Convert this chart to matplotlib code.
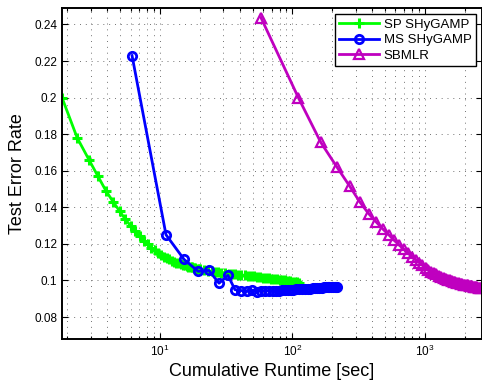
import matplotlib
matplotlib.use("Agg")
import matplotlib.pyplot as plt
from matplotlib.ticker import FixedLocator, FixedFormatter, LogLocator, NullFormatter

plt.rcParams['font.family'] = ['Liberation Sans', 'DejaVu Sans']

# SP SHyGAMP (green, + markers)
sp_time = [1.82, 2.37, 2.91, 3.40, 3.91, 4.43, 4.95, 5.47, 5.99, 6.51, 7.03, 7.55,
           8.07, 8.59, 9.11, 9.63, 10.2, 10.7, 11.2, 11.7, 12.3, 12.8, 13.3, 13.8,
           14.3, 14.9, 15.4, 15.9, 16.4, 17.0, 17.5, 18.0, 18.5, 19.0, 19.6, 20.1,
           21.5, 23, 24.5, 26, 27.5, 29, 31, 33, 35, 37, 39, 41, 43.5, 46, 48.5, 51,
           54, 57, 60, 63, 66, 69, 72, 76, 80, 84, 88, 92, 96, 100, 104, 108, 112]
sp_err = [0.200, 0.178, 0.166, 0.157, 0.149, 0.143, 0.138, 0.1335, 0.130, 0.127, 0.1242, 0.1218,
          0.1198, 0.1180, 0.1165, 0.1152, 0.1140, 0.1130, 0.1122, 0.1115, 0.1108, 0.1102, 0.1097, 0.1093,
          0.1089, 0.1085, 0.1082, 0.1079, 0.1076, 0.1073, 0.1071, 0.1069, 0.1067, 0.1065, 0.1063, 0.1061,
          0.1057, 0.1053, 0.1050, 0.1047, 0.1045, 0.1043, 0.1040, 0.1038, 0.1036, 0.1034, 0.1032, 0.1030,
          0.1028, 0.1026, 0.1024, 0.1022, 0.1020, 0.1018, 0.1016, 0.1014, 0.1012, 0.1010, 0.1008, 0.1006,
          0.1004, 0.1002, 0.1000, 0.0998, 0.0996, 0.0994, 0.0992, 0.0990, 0.0988]

# MS SHyGAMP (blue, o markers)
ms_time = [6.15, 11.1, 15.2, 19.4, 23.4, 27.9, 32.6, 36.8, 41.1, 45.4, 49.7, 54.0,
           58.3, 62.6, 66.9, 71.2, 75.5, 79.8, 84.1, 88.4, 92.7, 97.0, 101, 106,
           112, 118, 124, 130, 136, 142, 148, 154, 160, 166, 172, 178, 184, 190,
           196, 202, 208, 214, 217]
ms_err = [0.223, 0.125, 0.1115, 0.105, 0.1055, 0.0985, 0.1028, 0.0950, 0.0945, 0.0942, 0.0946, 0.0938,
          0.0943, 0.0941, 0.0944, 0.0943, 0.0944, 0.0945, 0.0946, 0.0947, 0.0948, 0.0949, 0.0950, 0.0951,
          0.0952, 0.0953, 0.0954, 0.0955, 0.0956, 0.0957, 0.0958, 0.0959, 0.0960, 0.0961, 0.0962, 0.0962,
          0.0963, 0.0964, 0.0965, 0.0965, 0.0966, 0.0967, 0.0967]

# SBMLR (magenta, triangle markers)
sb_time = [57.8, 110.8, 163.8, 216.8, 269.8, 322.8, 375.8, 428.8, 481.8, 534.8, 587.8,
           640.8, 693.8, 746.8, 799.8, 852.8, 905.8, 958.8, 1011.8, 1064.8, 1117.8,
           1170.8, 1223.8, 1276.8, 1329.8, 1382.8, 1435.8, 1488.8, 1541.8, 1594.8,
           1647.8, 1700.8, 1753.8, 1806.8, 1859.8, 1912.8, 1965.8, 2018.8, 2071.8,
           2124.8, 2177.8, 2230.8, 2283.8, 2336.8, 2389.8, 2442.8, 2495.8, 2548.8,
           2601.8, 2654.8, 2707.8]
sb_err = [0.2438, 0.2000, 0.1755, 0.1620, 0.1517, 0.1429, 0.1366, 0.1320, 0.1281, 0.1249, 0.1219,
          0.1193, 0.1171, 0.1149, 0.1130, 0.1113, 0.1098, 0.1083, 0.1070, 0.1057, 0.1047,
          0.1040, 0.1033, 0.1026, 0.1020, 0.1013, 0.1007, 0.1003, 0.1000, 0.0997,
          0.0994, 0.0991, 0.0988, 0.0985, 0.0982, 0.0980, 0.0977, 0.0976, 0.0974,
          0.0973, 0.0971, 0.0970, 0.0968, 0.0967, 0.0965, 0.0964, 0.0963, 0.0961,
          0.0960, 0.0959, 0.0958]

y_ticks = [0.08, 0.10, 0.12, 0.14, 0.16, 0.18, 0.20, 0.22, 0.24]
y_labels = ['0.08', '0.1', '0.12', '0.14', '0.16', '0.18', '0.2', '0.22', '0.24']
x_ticks = [10, 100, 1000]
x_labels = [r'$\mathregular{10^{1}}$', r'$\mathregular{10^{2}}$', r'$\mathregular{10^{3}}$']

fig = plt.figure(figsize=(4.82, 3.85), dpi=100)
ax = fig.add_axes([62/482, 46/385, 420/482, 331/385])

ax.plot(sp_time, sp_err, '-+', color='#00ff00', lw=2, ms=7.5, mew=2.2, label='SP SHyGAMP')
ax.plot(ms_time, ms_err, '-o', color='#0000ff', lw=2, ms=6, mew=2, mfc='none', label='MS SHyGAMP')
ax.plot(sb_time, sb_err, '-^', color='#bf00bf', lw=2, ms=7.5, mew=1.6, mfc='none', label='SBMLR')

ax.set_xscale('log')
ax.set_xlim(1.82, 2700)
ax.set_ylim(0.068, 0.249)

ax.xaxis.set_major_locator(FixedLocator(x_ticks))
ax.xaxis.set_major_formatter(FixedFormatter(x_labels))
ax.xaxis.set_minor_locator(LogLocator(base=10, subs=range(2, 10)))
ax.xaxis.set_minor_formatter(NullFormatter())
ax.yaxis.set_major_locator(FixedLocator(y_ticks))
ax.yaxis.set_major_formatter(FixedFormatter(y_labels))

ax.tick_params(which='both', direction='in', top=True, right=True, labelsize=8.5, width=0.8)
ax.tick_params(which='major', length=4)
ax.tick_params(which='minor', length=2)

ax.grid(True, which='major', color='0.45', linestyle=(0, (1, 5)), lw=0.7)
ax.grid(True, which='minor', axis='x', color='0.45', linestyle=(0, (1, 5)), lw=0.7)

for s in ax.spines.values():
    s.set_linewidth(1.4)

ax.set_xlabel('Cumulative Runtime [sec]', fontsize=13, labelpad=3)
ax.set_ylabel('Test Error Rate', fontsize=13, labelpad=6)

leg = ax.legend(loc='upper right', fontsize=9.5, numpoints=1, fancybox=False,
                framealpha=1, edgecolor='black', borderaxespad=0.45,
                handlelength=3.0, labelspacing=0.25, borderpad=0.35, handletextpad=0.35)
leg.get_frame().set_linewidth(1.0)

fig.savefig('out.png', dpi=100)
